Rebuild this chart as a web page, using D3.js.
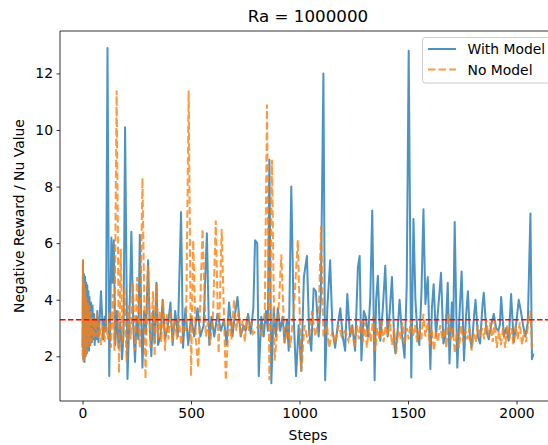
<!DOCTYPE html>
<html>
<head>
<meta charset="utf-8">
<script src="https://cdn.jsdelivr.net/npm/d3@7"></script>
<style>
  body { margin: 0; background: #fff; }
  svg { display: block; font-family: "DejaVu Sans", sans-serif; }
</style>
</head>
<body>
<div id="chart"></div>
<script>
// [step, value] pairs (turning points of each curve)
const withModel = [
  [0,2.3],[2,5.4],[4,1.9],[7,4.9],[9,1.8],[12,4.8],[14,2.0],[17,4.6],[20,2.1],[22,4.5],[25,2.3],[27,4.3],[30,2.2],[32,4.1],
  [36,2.4],[39,3.9],[43,2.5],[46,3.8],[49,2.6],[53,3.5],[56,2.4],[60,3.3],[64,2.6],[68,3.6],[73,2.5],[78,3.2],[85,4.3],
  [95,2.6],[102,3.4],[108,2.9],[115,12.9],[123,1.3],[129,4.2],[133,6.2],[138,4.6],[144,6.1],[151,2.4],[158,3.6],[166,2.3],
  [174,3.2],[182,1.9],[189,2.8],[196,10.1],[207,1.2],[216,3.4],[225,6.4],[234,3.0],[242,1.8],[249,3.4],[257,2.6],[264,6.3],
  [271,3.2],[276,1.6],[284,3.6],[292,2.8],[302,5.4],[310,3.0],[317,2.0],[325,3.6],[332,2.5],[341,4.6],[348,2.4],[359,2.7],
  [369,4.0],[380,2.6],[392,3.0],[405,3.9],[415,2.4],[427,3.6],[439,2.7],[454,7.1],[463,2.3],[474,3.7],[487,2.4],[500,3.4],
  [515,2.7],[530,3.7],[543,2.7],[558,3.1],[573,6.35],[584,2.4],[594,3.4],[607,2.7],[622,3.5],[638,2.9],[652,3.3],[664,2.4],
  [675,3.9],[691,2.7],[701,3.4],[714,4.1],[729,2.7],[741,3.1],[752,2.9],[763,3.5],[775,2.8],[787,3.7],[795,6.1],[805,6.0],
  [812,1.3],[824,3.4],[835,2.7],[845,3.6],[854,2.9],[861,8.95],[870,1.05],[881,3.7],[891,2.7],[900,3.7],[911,2.9],[922,3.4],
  [931,2.5],[942,3.3],[950,2.2],[962,8.0],[973,3.4],[984,1.3],[996,3.1],[1008,1.5],[1020,4.8],[1034,5.55],[1044,2.9],
  [1054,2.2],[1065,4.4],[1075,4.3],[1088,2.7],[1098,4.0],[1110,12.0],[1118,1.15],[1128,3.7],[1141,5.4],[1152,2.9],[1164,2.3],
  [1176,3.1],[1188,3.7],[1199,2.7],[1210,2.2],[1220,4.2],[1233,2.7],[1243,3.1],[1256,2.2],[1269,5.15],[1277,5.55],[1285,1.85],
  [1296,3.6],[1305,3.4],[1316,2.7],[1326,4.1],[1335,7.15],[1346,1.15],[1353,4.0],[1361,4.85],[1372,2.55],[1384,3.7],[1395,5.2],
  [1406,2.7],[1415,3.5],[1426,4.8],[1437,2.4],[1442,2.1],[1452,2.9],[1461,4.0],[1473,2.7],[1484,1.95],[1494,4.5],[1503,12.8],
  [1515,1.25],[1525,6.85],[1534,4.0],[1544,2.7],[1552,2.4],[1562,4.3],[1571,7.2],[1580,3.85],[1591,4.8],[1603,1.55],[1610,3.7],
  [1618,4.55],[1629,2.7],[1638,3.6],[1652,4.95],[1663,2.45],[1672,2.7],[1683,4.6],[1691,1.75],[1702,3.9],[1708,2.7],[1715,6.75],
  [1727,1.6],[1738,3.6],[1747,5.0],[1758,1.85],[1767,3.4],[1776,4.3],[1785,2.7],[1793,2.3],[1804,3.4],[1811,4.0],[1822,2.7],
  [1832,2.45],[1842,3.7],[1849,4.25],[1861,2.9],[1872,2.6],[1883,3.1],[1895,3.5],[1906,3.0],[1916,2.9],[1923,3.1],[1929,4.1],
  [1942,2.7],[1952,3.0],[1964,2.55],[1975,4.2],[1987,2.5],[1998,3.1],[2010,4.0],[2020,3.6],[2030,3.1],[2041,2.7],[2052,3.2],
  [2064,7.05],[2071,1.9],[2078,2.1]
];

const noModel = [
  [0,2.0],[2,5.4],[4,1.8],[7,4.6],[9,1.9],[12,4.4],[14,2.0],[17,4.1],[20,2.1],[24,3.9],[27,2.3],[31,3.8],[34,2.4],[38,3.6],
  [43,2.5],[47,3.4],[51,2.6],[56,3.3],[61,2.7],[66,3.5],[72,2.6],[78,3.2],[85,2.4],[93,3.1],[101,2.5],[108,3.3],[116,2.6],
  [124,3.6],[131,2.3],[139,4.2],[147,2.2],[157,11.4],[168,1.4],[176,5.8],[184,2.4],[193,4.4],[203,1.8],[213,3.8],[222,2.6],
  [232,4.6],[242,2.2],[251,4.8],[264,2.3],[276,8.3],[290,1.2],[302,5.2],[313,2.3],[325,4.3],[332,2.0],[340,4.6],[348,2.6],
  [356,3.6],[363,2.5],[371,4.0],[380,2.2],[388,3.5],[396,2.6],[406,3.6],[415,2.5],[425,3.3],[435,2.6],[444,3.4],[454,2.4],
  [466,3.1],[477,2.9],[489,11.4],[500,1.3],[510,6.1],[522,2.6],[533,1.6],[553,6.5],[568,2.7],[578,3.2],[587,2.4],[601,3.4],
  [614,6.8],[627,2.1],[641,6.5],[660,1.15],[675,3.4],[686,2.6],[698,4.0],[709,2.9],[719,3.6],[728,2.7],[738,3.3],[748,2.5],
  [757,3.4],[767,2.9],[777,3.2],[786,2.8],[796,2.9],[812,3.1],[827,2.7],[840,3.6],[850,10.9],[861,1.15],[873,8.95],[885,1.85],
  [900,3.1],[916,5.6],[931,2.45],[947,3.1],[957,2.3],[973,3.6],[992,6.1],[1008,1.45],[1023,3.1],[1041,2.45],[1057,3.6],
  [1072,2.7],[1088,3.3],[1099,6.6],[1110,2.7],[1126,3.1],[1136,2.3],[1152,2.9],[1164,2.45],[1180,3.1],[1194,2.7],[1210,2.9],
  [1225,2.55],[1240,3.1],[1254,2.3],[1264,3.1],[1273,2.6],[1283,3.3],[1293,2.5],[1302,3.2],[1310,2.3],[1320,3.0],[1329,2.5],
  [1339,3.4],[1349,2.2],[1358,3.0],[1368,2.6],[1378,3.2],[1387,2.5],[1397,3.1],[1407,2.7],[1416,3.3],[1426,2.4],[1436,3.0],
  [1445,2.1],[1455,2.9],[1465,2.6],[1474,3.2],[1484,2.4],[1494,3.0],[1503,2.6],[1513,3.3],[1523,2.7],[1532,3.1],[1542,2.5],
  [1552,3.0],[1561,2.6],[1571,3.5],[1580,2.7],[1590,3.2],[1600,2.4],[1609,3.0],[1619,2.2],[1629,2.9],[1638,2.5],[1648,3.1],
  [1658,2.6],[1667,3.0],[1677,2.3],[1687,3.5],[1696,2.6],[1706,3.0],[1716,2.1],[1725,2.9],[1735,2.3],[1745,3.1],[1754,2.5],
  [1764,2.9],[1774,2.6],[1783,3.0],[1793,2.2],[1803,2.8],[1812,2.5],[1822,3.1],[1832,2.7],[1841,3.0],[1851,2.6],[1861,3.3],
  [1870,2.7],[1880,3.2],[1890,2.5],[1899,3.3],[1909,2.3],[1919,2.9],[1928,2.4],[1938,3.0],[1948,2.3],[1957,3.1],[1967,2.6],
  [1977,3.0],[1986,2.4],[1996,3.1],[2005,2.6],[2015,3.2],[2025,2.4],[2034,2.9],[2044,2.5],[2054,3.2],[2064,3.6],[2071,2.3],
  [2077,2.3]
];

const refValue = 3.29   // red dashed reference line
const xTicks = [0, 500, 1000, 1500, 2000]
const yTicks = [2, 4, 6, 8, 10, 12]
const seriesNames = ["With Model", "No Model"]

// Graph dimension (axes box runs past the right edge of the picture)
const width = 548, height = 445
const plot = { left: 60, right: 556, top: 31, bottom: 401 }

const lastStep = d3.max(withModel, d => d[0])
const x = d3.scaleLinear()
    .domain([-0.05 * lastStep, 1.05 * lastStep])
    .range([plot.left, plot.right])
const y = d3.scaleLinear()
    .domain([0.42, 13.5])
    .range([plot.bottom, plot.top])

const svg = d3.select("#chart").append("svg")
    .attr("width", width)
    .attr("height", height)

svg.append("defs").append("clipPath").attr("id", "clip")
    .append("rect")
    .attr("x", plot.left).attr("y", plot.top)
    .attr("width", plot.right - plot.left)
    .attr("height", plot.bottom - plot.top)

const line = d3.line()
    .x(d => x(d[0]))
    .y(d => y(d[1]))

const lines = svg.append("g").attr("clip-path", "url(#clip)")

lines.append("path")
    .datum(withModel)
    .attr("fill", "none")
    .attr("stroke", "#1f77b4")
    .attr("stroke-opacity", 0.8)
    .attr("stroke-width", 2)
    .attr("stroke-linejoin", "round")
    .attr("d", line)

lines.append("path")
    .datum(noModel)
    .attr("fill", "none")
    .attr("stroke", "#ff7f0e")
    .attr("stroke-opacity", 0.8)
    .attr("stroke-width", 2)
    .attr("stroke-dasharray", "7.4,3.2")
    .attr("d", line)

// reference line
lines.append("line")
    .attr("x1", plot.left).attr("x2", plot.right)
    .attr("y1", y(refValue)).attr("y2", y(refValue))
    .attr("stroke", "red")
    .attr("stroke-width", 1.5)
    .attr("stroke-dasharray", "5.55,2.4")

// axes
const xAxis = svg.append("g")
    .attr("transform", `translate(0,${plot.bottom})`)
    .call(d3.axisBottom(x).tickValues(xTicks).tickSize(3.5).tickPadding(3.5).tickFormat(d3.format("d")))
const yAxis = svg.append("g")
    .attr("transform", `translate(${plot.left},0)`)
    .call(d3.axisLeft(y).tickValues(yTicks).tickSize(3.5).tickPadding(3.5).tickFormat(d3.format("d")))

for (const ax of [xAxis, yAxis]) {
    ax.select(".domain").remove()
    ax.selectAll(".tick line").attr("stroke", "#000").attr("stroke-width", 0.8)
    ax.selectAll(".tick text")
        .attr("fill", "#000")
        .style("font-family", "DejaVu Sans")
        .style("font-size", "13.9px")
}

// spines
svg.append("path")
    .attr("d", `M${plot.right},${plot.top}H${plot.left}V${plot.bottom}H${plot.right}`)
    .attr("fill", "none")
    .attr("stroke", "#000")
    .attr("stroke-width", 0.8)

// labels
svg.append("text")
    .attr("x", (plot.left + plot.right) / 2)
    .attr("y", 22)
    .attr("text-anchor", "middle")
    .style("font-size", "16.7px")
    .text("Ra = 1000000")

svg.append("text")
    .attr("x", (plot.left + plot.right) / 2)
    .attr("y", 440)
    .attr("text-anchor", "middle")
    .style("font-size", "13.9px")
    .text("Steps")

svg.append("text")
    .attr("transform", `translate(23.5,${(plot.top + plot.bottom) / 2}) rotate(-90)`)
    .attr("text-anchor", "middle")
    .style("font-size", "13.9px")
    .text("Negative Reward / Nu Value")

// legend
const legend = svg.append("g").attr("transform", "translate(422.5,37.5)")
legend.append("rect")
    .attr("width", 128).attr("height", 45.5)
    .attr("rx", 2.8)
    .attr("fill", "#fff").attr("fill-opacity", 0.8)
    .attr("stroke", "#cccccc").attr("stroke-width", 1)

const legendRows = [
    { name: seriesNames[0], color: "#1f77b4", dash: null, cy: 11.5 },
    { name: seriesNames[1], color: "#ff7f0e", dash: "7.4,3.2", cy: 32 }
]
legendRows.forEach(function (r) {
    legend.append("line")
        .attr("x1", 5.5).attr("x2", 33.5)
        .attr("y1", r.cy).attr("y2", r.cy)
        .attr("stroke", r.color)
        .attr("stroke-opacity", 0.8)
        .attr("stroke-width", 2)
        .attr("stroke-dasharray", r.dash)
    legend.append("text")
        .attr("x", 45)
        .attr("y", r.cy)
        .attr("dy", "0.36em")
        .style("font-size", "13.9px")
        .text(r.name)
})
</script>
</body>
</html>
